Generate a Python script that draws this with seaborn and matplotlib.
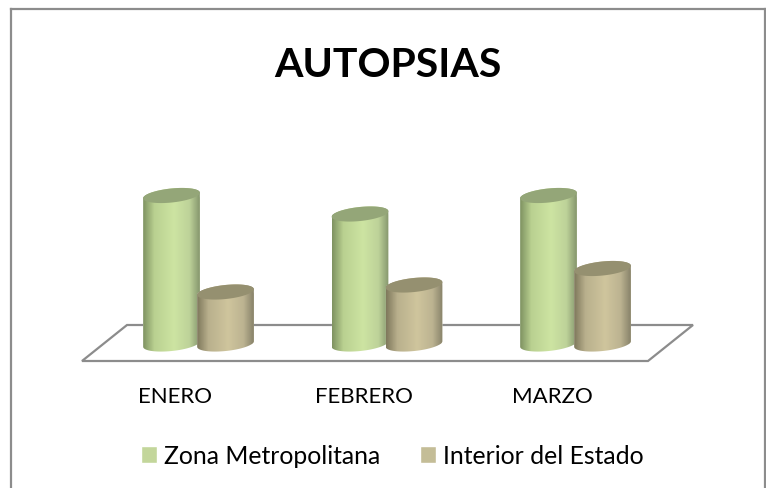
import numpy as np
import pandas as pd
import matplotlib
matplotlib.use('Agg')
import matplotlib.pyplot as plt
import seaborn as sns
from matplotlib.colors import LinearSegmentedColormap
from matplotlib.patches import Polygon, PathPatch
from matplotlib.path import Path
from matplotlib.transforms import Affine2D

# datos (sin eje visible, unidades aproximadas)
meses = ["ENERO", "FEBRERO", "MARZO"]
zonas = ["Zona Metropolitana", "Interior del Estado"]
metropolitana = [148.5, 130, 148.5]
interior = [52, 59, 75.5]

colores = ["#c3d69b", "#c4bd97"]
tapas = ["#94a678", "#959070"]
bordes = [["#7f9362", "#bad191", "#cde4a2", "#bdd299", "#86976e"],
          ["#7f795c", "#b9b08d", "#cfc59d", "#bcb391", "#88836a"]]

W, H = 766, 489
GRIS = "#8c8c8c"
PX_X = 188.5  # pixeles entre categorias

sns.set_theme(style="white")
plt.rcParams['font.family'] = ['Lato', 'DejaVu Sans']

df = pd.DataFrame({
    "mes": meses * 2,
    "zona": [zonas[0]] * 3 + [zonas[1]] * 3,
    "valor": metropolitana + interior,
})

fig = plt.figure(figsize=(W / 100, H / 100), dpi=100)
ax = fig.add_axes([11 / W, 0, (764.5 - 11) / W, (H - 10) / H])

sns.barplot(data=df, x="mes", y="valor", hue="zona", hue_order=zonas,
            palette=colores, width=0.573, gap=-0.055, saturation=1, ax=ax)

xlim = ((11 - 198.5) / PX_X, (764.5 - 198.5) / PX_X)
ylim = (-144, 335)

# suelo 3D
pix = Affine2D().scale(1, -1).translate(0, H)
ax.add_patch(Polygon([(82, 362), (127, 326), (693, 326), (648, 362)], closed=True,
                     fill=False, edgecolor=GRIS, linewidth=1.6, transform=pix, zorder=1))


def elipse(cx, cy, a, t, b=7.0, ang=np.radians(6)):
    # elipse inclinada, cx en datos, el resto en pixeles
    x = cx + (a * np.cos(t) * np.cos(ang) - b * np.sin(t) * np.sin(ang)) / PX_X
    y = cy + a * np.cos(t) * np.sin(ang) + b * np.sin(t) * np.cos(ang)
    return np.column_stack([x, y])


# cada barra se dibuja como cilindro
n = len(meses)
barras = list(ax.patches)[:2 * n]
for i, bar in enumerate(barras):
    serie = i // n
    w = bar.get_width()
    cx = bar.get_x() + w / 2
    h = bar.get_height()
    a = w * PX_X / 2
    z = 3 + i % n + serie * 0.5

    abajo = elipse(cx, 0, a, np.linspace(np.pi, 2 * np.pi, 40))
    arriba = elipse(cx, h, a, np.linspace(0, np.pi, 40))
    cuerpo = PathPatch(Path(np.vstack([abajo, arriba, abajo[:1]])), transform=ax.transData,
                       facecolor="none", edgecolor="none")
    ax.add_patch(cuerpo)
    bar.set_clip_path(cuerpo)
    bar.set_zorder(z)

    cmap = LinearSegmentedColormap.from_list(
        "c", list(zip([0, 0.2, 0.55, 0.82, 1], bordes[serie])))
    im = ax.imshow(np.linspace(0, 1, 120).reshape(1, -1), cmap=cmap, aspect="auto",
                   extent=(cx - w / 2, cx + w / 2, -12, h + 12), zorder=z + 0.1)
    im.set_clip_path(cuerpo)
    ax.add_patch(Polygon(elipse(cx, h, a, np.linspace(0, 2 * np.pi, 80)), closed=True,
                         facecolor=tapas[serie], edgecolor="none", zorder=z + 0.2))

ax.set_xlim(xlim)
ax.set_ylim(ylim)
ax.set_xlabel("")
ax.set_ylabel("")
ax.set_yticks([])

# etiquetas de mes desplazadas como en el 3D original
ax.spines["bottom"].set_position(("data", -42))
ax.spines["bottom"].set_visible(False)
ax.tick_params(axis="x", length=0, pad=0, labelsize=16, labelcolor="black")
for lab in ax.get_xticklabels():
    lab.set_transform(lab.get_transform() + Affine2D().translate(-23, 0))

for lado in ["left", "right", "top"]:
    ax.spines[lado].set_color(GRIS)
    ax.spines[lado].set_linewidth(1.6)

ax.set_title("AUTOPSIAS", fontsize=29.5, fontweight="bold", color="black", y=0.842)

handles = ax.get_legend().legend_handles
ax.legend(handles, zonas, ncol=2, frameon=False, fontsize=17.8, loc="center",
          bbox_to_anchor=((392.5 - 11) / (764.5 - 11), (489 - 457) / 479),
          handlelength=0.63, handleheight=0.68, handletextpad=0.3, columnspacing=1.6,
          labelcolor="black")

fig.savefig("out.png", dpi=100)
